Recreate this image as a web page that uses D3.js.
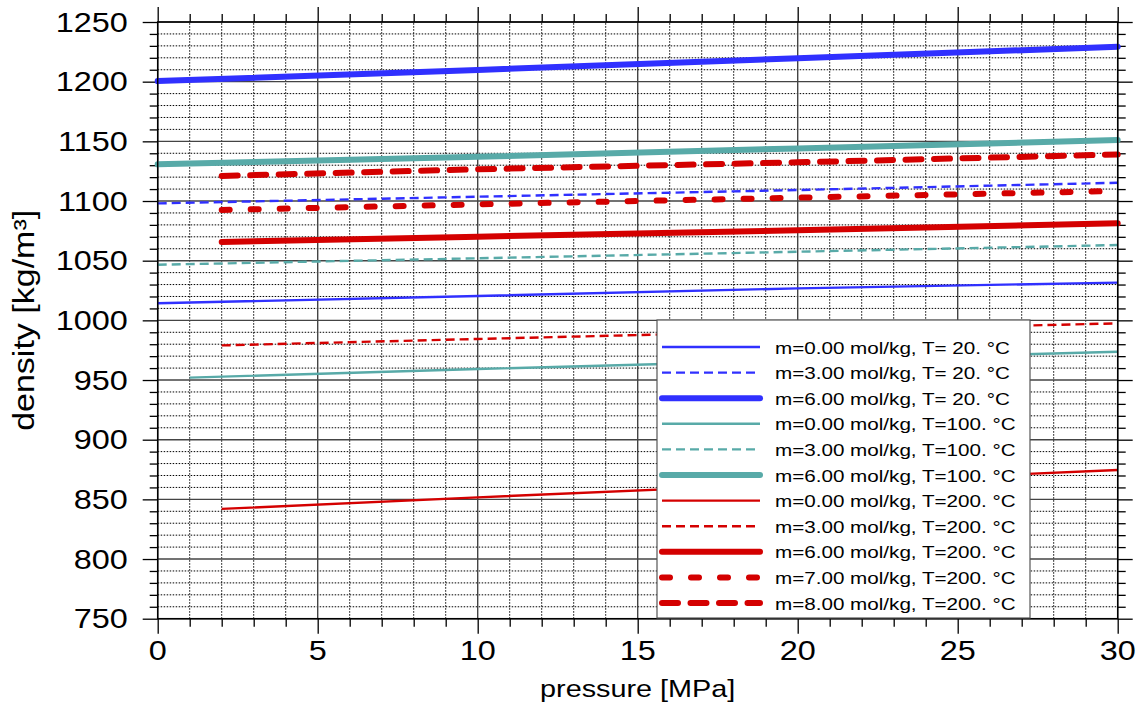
<!DOCTYPE html>
<html>
<head>
<meta charset="utf-8">
<script src="https://cdn.jsdelivr.net/npm/d3@7"></script>
<style>
  body { margin: 0; background: #fff; }
  svg { display: block; font-family: "Liberation Sans", Arial, sans-serif; }
</style>
</head>
<body>
<div id="chart"></div>
<script>
// pressure [MPa] sample points
const pressureFrom0 = [0, 10, 20, 30];
const pressureFrom1 = [1, 10, 30];
const pressureFrom2 = [2, 10, 20, 30];
const pressureFrom2b = [2, 10, 30];

// density [kg/m3]
const densityM0T20 = [1014.3, 1020.4, 1026.8, 1031.6];
const densityM3T20 = [1098.0, 1103.6, 1109.2, 1115.3];
const densityM6T20 = [1200.5, 1209.8, 1219.6, 1229.3];
const densityM0T100 = [952.0, 959.2, 973.7];
const densityM3T100 = [1046.6, 1052.0, 1057.5, 1063.1];
const densityM6T100 = [1130.7, 1137.1, 1144.1, 1151.1];
const densityM0T200 = [842.0, 851.7, 874.6];
const densityM3T200 = [979.0, 984.4, 997.5];
const densityM6T200 = [1065.7, 1070.1, 1075.4, 1081.3];
const densityM7T200 = [1092.5, 1097.2, 1102.8, 1108.4];
const densityM8T200 = [1121.0, 1126.6, 1132.4, 1139.0];

const legendLabels = [
  'm=0.00 mol/kg, T= 20. °C',
  'm=3.00 mol/kg, T= 20. °C',
  'm=6.00 mol/kg, T= 20. °C',
  'm=0.00 mol/kg, T=100. °C',
  'm=3.00 mol/kg, T=100. °C',
  'm=6.00 mol/kg, T=100. °C',
  'm=0.00 mol/kg, T=200. °C',
  'm=3.00 mol/kg, T=200. °C',
  'm=6.00 mol/kg, T=200. °C',
  'm=7.00 mol/kg, T=200. °C',
  'm=8.00 mol/kg, T=200. °C'
];

const xTicks = [0, 5, 10, 15, 20, 25, 30];
const yTicks = [750, 800, 850, 900, 950, 1000, 1050, 1100, 1150, 1200, 1250];

const blue = '#3030ff', teal = '#58aaa8', red = '#d40000';
const thin = {w: 2.4, dash: null, cap: 'butt'};
const thinDash = {w: 2.4, dash: '9,5', cap: 'butt'};
const thick = {w: 6, dash: null, cap: 'round'};
const thickGap = {w: 6, dash: '8,21', cap: 'round'};
const thickDash = {w: 6, dash: '16,12.5', cap: 'round'};

const series = [
  {p: pressureFrom0, d: densityM0T20, c: blue, s: thin},
  {p: pressureFrom0, d: densityM3T20, c: blue, s: thinDash},
  {p: pressureFrom0, d: densityM6T20, c: blue, s: thick},
  {p: pressureFrom1, d: densityM0T100, c: teal, s: thin},
  {p: pressureFrom0, d: densityM3T100, c: teal, s: thinDash},
  {p: pressureFrom0, d: densityM6T100, c: teal, s: thick},
  {p: pressureFrom2b, d: densityM0T200, c: red, s: thin},
  {p: pressureFrom2b, d: densityM3T200, c: red, s: thinDash},
  {p: pressureFrom2, d: densityM6T200, c: red, s: thick},
  {p: pressureFrom2, d: densityM7T200, c: red, s: thickGap},
  {p: pressureFrom2, d: densityM8T200, c: red, s: thickDash}
].map((s, i) => Object.assign(s, {label: legendLabels[i], pts: s.p.map((v, j) => [v, s.d[j]])}));

const width = 1143, height = 703;
const margin = {left: 157.7, right: 25.3, top: 22, bottom: 84.3};
const sx = 1.2; // glyphs in the picture are a bit wider than plain Arial

const svg = d3.select('#chart').append('svg')
  .attr('width', width).attr('height', height);

const x = d3.scaleLinear().domain([0, 30]).range([margin.left, width - margin.right]);
const y = d3.scaleLinear().domain([750, 1250]).range([height - margin.bottom, margin.top]);

const minorX = d3.range(0, 31, 1).filter(v => v % 5 !== 0);
const minorY = d3.range(750, 1251, 10).filter(v => v % 50 !== 0);

// grid
const grid = svg.append('g');
grid.selectAll('.gx').data(minorX).join('line')
  .attr('x1', d => x(d)).attr('x2', d => x(d))
  .attr('y1', y(750)).attr('y2', y(1250))
  .attr('stroke', '#000').attr('stroke-width', 1).attr('stroke-dasharray', '1.5,1.5');
grid.selectAll('.gy').data(minorY).join('line')
  .attr('x1', x(0)).attr('x2', x(30))
  .attr('y1', d => y(d)).attr('y2', d => y(d))
  .attr('stroke', '#000').attr('stroke-width', 1).attr('stroke-dasharray', '1.5,1.5');
grid.selectAll('.Gx').data(xTicks).join('line')
  .attr('x1', d => x(d)).attr('x2', d => x(d))
  .attr('y1', y(750)).attr('y2', y(1250))
  .attr('stroke', '#444').attr('stroke-width', 1.4);
grid.selectAll('.Gy').data(yTicks).join('line')
  .attr('x1', x(0)).attr('x2', x(30))
  .attr('y1', d => y(d)).attr('y2', d => y(d))
  .attr('stroke', '#444').attr('stroke-width', 1.4);

// axes ticks (major + minor, all four sides)
function ticks(axisFn, scale, major, minor, tr) {
  const gMaj = svg.append('g').attr('transform', tr)
    .call(axisFn(scale).tickValues(major).tickSize(15).tickFormat(''));
  const gMin = svg.append('g').attr('transform', tr)
    .call(axisFn(scale).tickValues(minor).tickSize(8).tickFormat(''));
  [gMaj, gMin].forEach(g => {
    g.select('.domain').remove();
    g.selectAll('line').attr('stroke', '#000').attr('stroke-width', 1.3);
  });
}
ticks(d3.axisBottom, x, xTicks, minorX, `translate(0,${y(750)})`);
ticks(d3.axisTop, x, xTicks, minorX, `translate(0,${y(1250)})`);
ticks(d3.axisLeft, y, yTicks, minorY, `translate(${x(0)},0)`);
ticks(d3.axisRight, y, yTicks, minorY, `translate(${x(30)},0)`);

// series
const line = d3.line().x(d => x(d[0])).y(d => y(d[1]));
svg.append('g').selectAll('path').data(series).join('path')
  .attr('d', d => line(d.pts))
  .attr('fill', 'none')
  .attr('stroke', d => d.c)
  .attr('stroke-width', d => d.s.w)
  .attr('stroke-linecap', d => d.s.cap)
  .attr('stroke-dasharray', d => d.s.dash);

// frame
svg.append('rect')
  .attr('x', x(0)).attr('y', y(1250))
  .attr('width', x(30) - x(0)).attr('height', y(750) - y(1250))
  .attr('fill', 'none').attr('stroke', '#000').attr('stroke-width', 1.5);

// tick labels
svg.append('g').selectAll('text').data(xTicks).join('text')
  .attr('transform', d => `translate(${x(d)},${y(750) + 41}) scale(${sx},1)`)
  .attr('text-anchor', 'middle')
  .attr('font-size', 27)
  .text(d => d);
svg.append('g').selectAll('text').data(yTicks).join('text')
  .attr('transform', d => `translate(${x(0) - 30},${y(d) + 9.5}) scale(${sx},1)`)
  .attr('text-anchor', 'end')
  .attr('font-size', 27)
  .text(d => d);

// axis titles
svg.append('text')
  .attr('transform', `translate(${(x(0) + x(30)) / 2},${697}) scale(${sx},1)`)
  .attr('text-anchor', 'middle').attr('font-size', 24)
  .text('pressure [MPa]');
svg.append('text')
  .attr('transform', `translate(${34},${y(1000)}) rotate(-90) scale(1,0.85)`)
  .attr('text-anchor', 'middle').attr('font-size', 34)
  .text('density [kg/m³]');

// legend
const lg = svg.append('g');
const lgX = 657, lgY = 320, rowH = 25.6;
lg.append('rect')
  .attr('x', lgX).attr('y', lgY).attr('width', 373).attr('height', 298)
  .attr('fill', '#fff').attr('stroke', '#555').attr('stroke-width', 1.2);
const rows = lg.selectAll('.row').data(series).join('g')
  .attr('transform', (d, i) => `translate(${lgX},${lgY + 27 + i * rowH})`);
rows.append('line')
  .attr('x1', 5).attr('x2', 103).attr('y1', 0).attr('y2', 0)
  .attr('stroke', d => d.c)
  .attr('stroke-width', d => d.s.w)
  .attr('stroke-linecap', d => d.s.cap)
  .attr('stroke-dasharray', d => d.s.dash);
rows.append('text')
  .attr('transform', `translate(118,6.5) scale(${sx},1)`)
  .attr('font-size', 17.2)
  .text(d => d.label);
</script>
</body>
</html>
